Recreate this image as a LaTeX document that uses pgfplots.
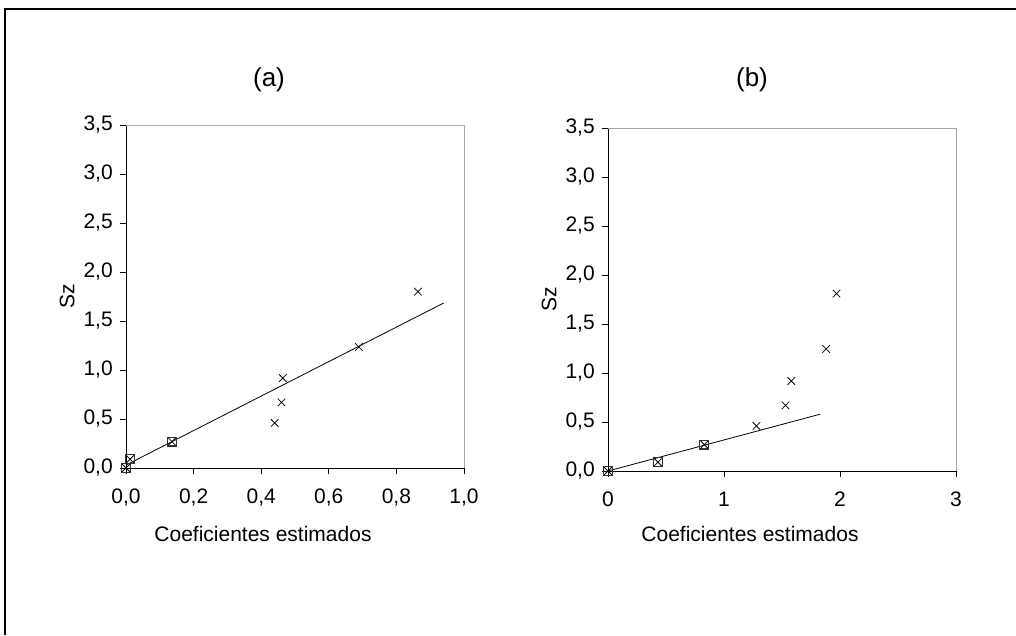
\documentclass[border=0pt]{standalone}
\usepackage{fontspec}
\setmainfont{Liberation Sans}
\usepackage{pgfplots}
\pgfplotsset{compat=1.18}
\begin{document}
\fontsize{15.75}{18}\selectfont
\begin{tikzpicture}
\useasboundingbox (0,0) rectangle (762pt,-476.25pt);
\draw[line width=2pt] (3.75pt,-476.25pt) -- (3.75pt,-6.75pt) -- (762pt,-6.75pt);
\pgfplotsset{
  common/.style={
    scale only axis,
    anchor=south west,
    ymin=0, ymax=3.5,
    ytick={0,0.5,1,1.5,2,2.5,3,3.5},
    axis x line*=bottom, axis y line*=left,
    tick align=outside,
    major tick length=4.5pt,
    tick style={black, line width=0.75pt},
    axis line style={black, line width=0.75pt},
    y tick label style={/pgf/number format/.cd, fixed, fixed zerofill, precision=1, use comma, assume math mode=true},
    x tick label style={yshift=-6pt},
    tick label style={font=\fontsize{15.75}{18}\selectfont},
    label style={font=\fontsize{15.75}{18}\selectfont},
    ylabel={Sz},
    ylabel style={yshift=-4pt},
    xlabel={Coeficientes estimados},
    xlabel style={xshift=-24pt, yshift=-4pt},
    clip=false,
  },
  xmark/.style={only marks, mark=x, mark size=4pt, black, mark options={line width=0.6pt}},
  smark/.style={only marks, mark=square, mark size=3.3pt, black!80, mark options={line width=0.9pt}},
}
\begin{axis}[common, at={(94.5pt,-351pt)}, width=253.5pt, height=257.25pt,
  xmin=0, xmax=1, xtick={0,0.2,0.4,0.6,0.8,1},
  x tick label style={/pgf/number format/.cd, fixed, fixed zerofill, precision=1, use comma, assume math mode=true}]
\draw[gray!70, line width=0.75pt] (rel axis cs:0,1) -- (rel axis cs:1,1) -- (rel axis cs:1,0);
\addplot[black, line width=0.6pt, no marks] coordinates {(0,0.03) (0.94,1.684)};
\addplot[smark] coordinates {(0,0) (0.012,0.09) (0.136,0.27)};
\addplot[xmark] coordinates {(0,0) (0.012,0.09) (0.136,0.27) (0.44,0.46) (0.46,0.67) (0.464,0.918) (0.689,1.235) (0.864,1.80)};
\end{axis}
\begin{axis}[common, at={(456pt,-353.25pt)}, width=261pt, height=257.25pt,
  xmin=0, xmax=3, xtick={0,1,2,3},
  x tick label style={/pgf/number format/assume math mode=true}]
\draw[gray!70, line width=0.75pt] (rel axis cs:0,1) -- (rel axis cs:1,1) -- (rel axis cs:1,0);
\addplot[black, line width=0.6pt, no marks] coordinates {(0,0) (1.83,0.58)};
\addplot[smark] coordinates {(0,0) (0.43,0.09) (0.83,0.27)};
\addplot[xmark] coordinates {(0,0) (0.43,0.09) (0.83,0.27) (1.28,0.46) (1.53,0.67) (1.58,0.918) (1.88,1.245) (1.97,1.81)};
\end{axis}
\node[font=\fontsize{19.5}{23}\selectfont] at (201.75pt,-60pt) {(a)};
\node[font=\fontsize{19.5}{23}\selectfont] at (564pt,-60pt) {(b)};
\end{tikzpicture}
\end{document}
